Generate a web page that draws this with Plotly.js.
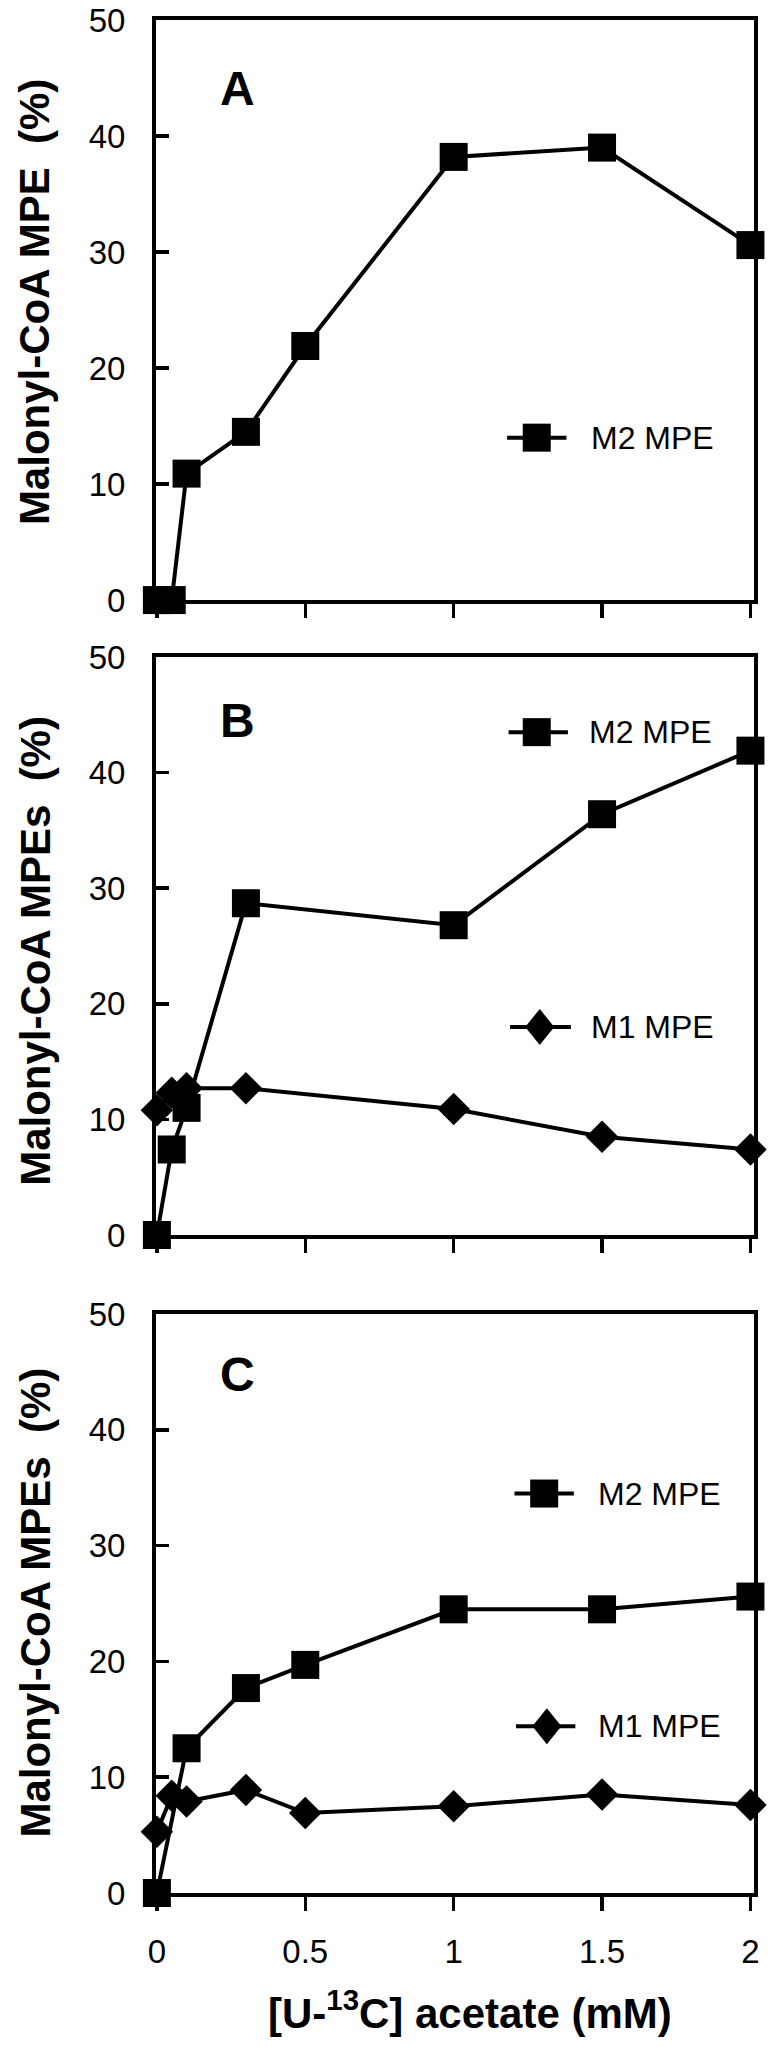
<!DOCTYPE html>
<html>
<head>
<meta charset="utf-8">
<script src="https://cdn.plot.ly/plotly-3.0.1.min.js"></script>
<style>html,body{margin:0;padding:0;background:#fff;}#chart{width:784px;height:2047px;}</style>
</head>
<body>
<div id="chart"></div>
<script>
// ---- data ----
const panelLetters = ["A", "B", "C"];
const yTitles = ["Malonyl-CoA MPE\u00a0\u00a0(%)", "Malonyl-CoA MPEs\u00a0\u00a0(%)", "Malonyl-CoA MPEs\u00a0\u00a0(%)"];
const xTitle = "[U-<sup>13</sup>C] acetate (mM)";
const seriesNames = ["M2 MPE", "M1 MPE"];
const xTickVals = [0, 0.5, 1, 1.5, 2];
const xTickText = ["0", "0.5", "1", "1.5", "2"];
const yTickVals = [0, 10, 20, 30, 40, 50];

// Panel A
const xA_M2 = [0, 0.05, 0.1, 0.3, 0.5, 1, 1.5, 2];
const yA_M2 = [0, 0, 10.9, 14.5, 21.9, 38.2, 39.0, 30.6];
// Panel B
const xB_M2 = [0, 0.05, 0.1, 0.3, 1, 1.5, 2];
const yB_M2 = [0, 7.4, 11.0, 28.7, 26.8, 36.4, 41.9];
const xB_M1 = [0, 0.05, 0.1, 0.3, 1, 1.5, 2];
const yB_M1 = [10.8, 12.3, 12.7, 12.7, 10.9, 8.5, 7.4];
// Panel C
const xC_M2 = [0, 0.1, 0.3, 0.5, 1, 1.5, 2];
const yC_M2 = [0, 12.5, 17.7, 19.7, 24.5, 24.5, 25.6];
const xC_M1 = [0, 0.05, 0.1, 0.3, 0.5, 1, 1.5, 2];
const yC_M1 = [5.3, 8.4, 7.9, 8.9, 6.9, 7.5, 8.5, 7.6];

// ---- styles ----
const FONT = "Liberation Sans, Arial, Helvetica, sans-serif";
const sqSize = 28, diaSize = 25, LW = 4;

function tr(x, y, name, sym, size, xa, ya) {
  return {
    x: x, y: y, name: name, type: "scatter", mode: "lines+markers",
    xaxis: xa, yaxis: ya, cliponaxis: false, showlegend: false,
    line: {color: "#000", width: LW},
    marker: {color: "#000", symbol: sym, size: size, line: {width: 0}}
  };
}

const traces = [
  tr(xA_M2, yA_M2, seriesNames[0], "square", sqSize, "x", "y"),
  tr(xB_M2, yB_M2, seriesNames[0], "square", sqSize, "x2", "y2"),
  tr(xB_M1, yB_M1, seriesNames[1], "diamond", diaSize, "x2", "y2"),
  tr(xC_M2, yC_M2, seriesNames[0], "square", sqSize, "x3", "y3"),
  tr(xC_M1, yC_M1, seriesNames[1], "diamond", diaSize, "x3", "y3")
];

function xax(anchor, showLabels) {
  return {
    anchor: anchor, domain: [0, 1], range: [-0.003, 2.012],
    showline: true, linecolor: "#000", linewidth: 4, mirror: true,
    showgrid: false, zeroline: false,
    ticks: "outside", ticklen: 14, tickwidth: 3.5, tickcolor: "#000",
    tickvals: xTickVals, ticktext: xTickText,
    showticklabels: showLabels, ticklabelstandoff: 12,
    tickfont: {family: FONT, size: 33, color: "#000"}
  };
}
function yax(anchor, domain) {
  return {
    anchor: anchor, domain: domain, range: [0, 50],
    showline: true, linecolor: "#000", linewidth: 4, mirror: true,
    showgrid: false, zeroline: false,
    ticks: "inside", ticklen: 13, tickwidth: 3.5, tickcolor: "#000",
    tickvals: yTickVals, ticklabelstandoff: 20,
    tickfont: {family: FONT, size: 33, color: "#000"}
  };
}

// legend glyph + label builders (decoration, not data)
const shapes = [];
const annotations = [];
function legendItem(xr, yr, x0, x1, xm, ym, sym, label, xt) {
  shapes.push({type: "line", xref: xr, yref: yr, x0: x0, x1: x1, y0: ym, y1: ym, line: {color: "#000", width: LW}});
  if (sym === "square") {
    shapes.push({type: "rect", xref: xr, yref: yr, xsizemode: "pixel", ysizemode: "pixel",
      xanchor: xm, yanchor: ym, x0: -14, x1: 14, y0: -14, y1: 14,
      fillcolor: "#000", line: {width: 0}});
  } else {
    shapes.push({type: "path", xref: xr, yref: yr, xsizemode: "pixel", ysizemode: "pixel",
      xanchor: xm, yanchor: ym, path: "M-14.5,0L0,18L14.5,0L0,-18Z",
      fillcolor: "#000", line: {width: 0}});
  }
  annotations.push({xref: xr, yref: yr, x: xt, y: ym, text: label, showarrow: false,
    xanchor: "left", yanchor: "middle", font: {family: FONT, size: 32, color: "#000"}});
}
legendItem("x", "y", 1.18, 1.38, 1.28, 14.0, "square", seriesNames[0], 1.455);
legendItem("x2", "y2", 1.185, 1.385, 1.28, 43.5, "square", seriesNames[0], 1.45);
legendItem("x2", "y2", 1.19, 1.395, 1.29, 18.0, "diamond", seriesNames[1], 1.455);
legendItem("x3", "y3", 1.205, 1.405, 1.305, 34.5, "square", seriesNames[0], 1.48);
legendItem("x3", "y3", 1.21, 1.41, 1.314, 14.4, "diamond", seriesNames[1], 1.48);

// panel letters and y titles
[["x", "y"], ["x2", "y2"], ["x3", "y3"]].forEach(function (ax, i) {
  annotations.push({xref: ax[0], yref: ax[1], x: 0.27, y: [44.1, 44.5, 44.8][i], text: panelLetters[i],
    showarrow: false, xanchor: "center", yanchor: "middle",
    font: {family: FONT, size: 48, color: "#000", weight: "bold"}});
  annotations.push({xref: "paper", yref: ax[1], x: -0.202, y: [25.7, 24.6, 25.1][i], text: yTitles[i],
    textangle: -90, showarrow: false, xanchor: "center", yanchor: "middle",
    font: {family: FONT, size: 42, color: "#000", weight: "bold"}});
});
annotations.push({xref: "paper", yref: "paper", x: 0.525, y: -0.0625, text: xTitle,
  showarrow: false, xanchor: "center", yanchor: "middle",
  font: {family: FONT, size: 42, color: "#000", weight: "bold"}});

const layout = {
  width: 784, height: 2047,
  margin: {l: 156, r: 30, t: 20, b: 154},
  paper_bgcolor: "#fff", plot_bgcolor: "#fff",
  showlegend: false,
  font: {family: FONT, color: "#000"},
  xaxis: xax("y", false),
  xaxis2: xax("y2", false),
  xaxis3: xax("y3", true),
  yaxis: yax("x", [0.6903, 1]),
  yaxis2: yax("x2", [0.3513, 0.6599]),
  yaxis3: yax("x3", [0, 0.3091]),
  shapes: shapes,
  annotations: annotations
};

Plotly.newPlot("chart", traces, layout, {staticPlot: true, displayModeBar: false});
</script>
</body>
</html>
